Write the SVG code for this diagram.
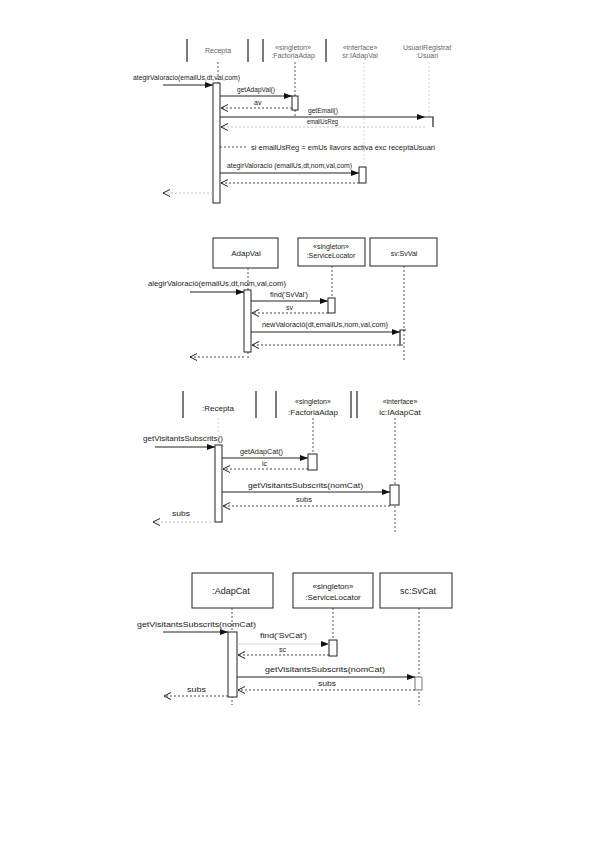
<svg xmlns="http://www.w3.org/2000/svg" width="599" height="848" viewBox="0 0 599 848">
<defs>
<style>
text{font-family:"Liberation Sans",Arial,sans-serif;fill:#222}
.s7{font-size:7px}.s8{font-size:8px}.s9{font-size:9px}
.hd{fill:#666}
.mid{text-anchor:middle}
.box{fill:#fff;stroke:#222;stroke-width:1}
.edge{stroke:#222;stroke-width:1.2;fill:none}
.life{stroke:#444;stroke-width:0.9;stroke-dasharray:2,2;fill:none}
.faint{stroke:#ccc;stroke-width:0.8;stroke-dasharray:2,2;fill:none}
.act{fill:#fff;stroke:#222;stroke-width:1}
.msg{stroke:#222;stroke-width:1;fill:none;marker-end:url(#fill)}
.ret{stroke:#333;stroke-width:0.9;stroke-dasharray:2,2;fill:none;marker-end:url(#open)}
.retf{stroke:#bbb;stroke-width:0.9;stroke-dasharray:2,2;fill:none;marker-end:url(#open)}
</style>
<marker id="fill" markerUnits="userSpaceOnUse" markerWidth="8" markerHeight="6" refX="8" refY="3" orient="auto"><path d="M0,0 L8,3 L0,6 z" fill="#111"/></marker>
<marker id="open" markerUnits="userSpaceOnUse" markerWidth="8" markerHeight="8" refX="7" refY="4" orient="auto"><path d="M0,0.5 L7,4 L0,7.5" fill="none" stroke="#222" stroke-width="1"/></marker>
</defs>
<rect width="599" height="848" fill="#fff"/>

<!-- Diagram 1 -->
<g id="d1-recepta">
<line class="edge" x1="187" y1="39" x2="187" y2="62"/><line class="edge" x1="248" y1="39" x2="248" y2="62"/>
<text class="s7 hd mid" x="218" y="53">Recepta</text>
<line class="life" x1="218" y1="62" x2="218" y2="83"/>
<rect class="act" x="213" y="83" width="7" height="120"/>
</g>
<g id="d1-factoria">
<line class="edge" x1="263" y1="39" x2="263" y2="62"/><line class="edge" x1="326" y1="39" x2="326" y2="62"/>
<text class="s7 hd mid" x="293" y="50">«singleton»</text>
<text class="s7 hd mid" x="293" y="58">:FactoriaAdap</text>
<line class="life" x1="295" y1="62" x2="295" y2="118"/>
<rect class="act" x="292" y="96" width="6" height="14"/>
</g>
<g id="d1-iadapval">
<text class="s7 hd mid" x="360" y="50">«interface»</text>
<text class="s7 hd mid" x="360" y="58">sr:IAdapVal</text>
<line class="faint" x1="364" y1="62" x2="364" y2="167"/>
<rect class="act" x="359" y="167" width="7" height="16"/>
</g>
<g id="d1-usuari">
<text class="s7 hd mid" x="427" y="50">UsuariRegistrat</text>
<text class="s7 hd mid" x="427" y="58">:Usuari</text>
<line class="faint" x1="429" y1="62" x2="429" y2="117"/>
<path d="M425,117 H433 V127" fill="none" stroke="#222" stroke-width="1.2"/>
</g>
<g id="d1-note">
<line class="life" x1="220" y1="147" x2="248" y2="147"/>
<text class="s8" x="251" y="150" textLength="184" lengthAdjust="spacingAndGlyphs">si emailUsReg = emUs llavors activa exc receptaUsuari</text>
</g>
<g id="d1-connectors">
<line class="msg" x1="163" y1="85" x2="213" y2="85"/>
<text class="s7" x="133" y="80" textLength="107" lengthAdjust="spacingAndGlyphs">ategirValoracio(emailUs,dt,val,com)</text>
<line class="msg" x1="220" y1="96" x2="292" y2="96"/>
<text class="s7" x="237" y="92" textLength="38" lengthAdjust="spacingAndGlyphs">getAdapVal()</text>
<line class="ret" x1="292" y1="108" x2="221" y2="108"/>
<text class="s7" x="254" y="105">av</text>
<line class="msg" x1="220" y1="117" x2="425" y2="117"/>
<text class="s7" x="308" y="113" textLength="30" lengthAdjust="spacingAndGlyphs">getEmail()</text>
<text class="s7" x="307" y="124" textLength="31" lengthAdjust="spacingAndGlyphs">emailUsReg</text>
<line class="retf" x1="425" y1="127" x2="221" y2="127"/>
<line class="msg" x1="220" y1="173" x2="359" y2="173"/>
<text class="s7" x="227" y="168" textLength="125" lengthAdjust="spacingAndGlyphs">ategirValoracio (emailUs,dt,nom,val,com)</text>
<line class="ret" x1="359" y1="183" x2="221" y2="183"/>
<line class="retf" x1="213" y1="193" x2="163" y2="193"/>
</g>

<!-- Diagram 2 -->
<g id="d2-adapval">
<rect class="box" x="213" y="238" width="65" height="30"/>
<text class="s8 mid" x="246" y="256">AdapVal</text>
<line class="life" x1="248" y1="268" x2="248" y2="358"/>
<rect class="act" x="244" y="290" width="7" height="62"/>
</g>
<g id="d2-servicelocator">
<rect class="box" x="298" y="238" width="67" height="28"/>
<text class="s7 mid" x="331" y="249">«singleton»</text>
<text class="s7 mid" x="331" y="258">:ServiceLocator</text>
<line class="life" x1="332" y1="266" x2="332" y2="298"/>
<rect class="act" x="328" y="298" width="7" height="15"/>
</g>
<g id="d2-svval">
<rect class="box" x="370" y="238" width="67" height="28"/>
<text class="s7 mid" x="404" y="256">sv:SvVal</text>
<line class="life" x1="404" y1="266" x2="404" y2="360"/>
<path d="M400,346 V330 H406" fill="none" stroke="#222" stroke-width="1.2"/>
</g>
<g id="d2-connectors">
<line class="msg" x1="190" y1="292" x2="244" y2="292"/>
<text class="s7" x="148" y="286" textLength="138" lengthAdjust="spacingAndGlyphs">alegirValoració(emailUs,dt,nom,val,com)</text>
<line class="msg" x1="251" y1="301" x2="328" y2="301"/>
<text class="s7" x="270" y="297" textLength="38" lengthAdjust="spacingAndGlyphs">find('SvVal')</text>
<line class="ret" x1="328" y1="313" x2="252" y2="313"/>
<text class="s7" x="286" y="310">sv</text>
<line class="msg" x1="251" y1="332" x2="400" y2="332"/>
<text class="s7" x="262" y="327" textLength="126" lengthAdjust="spacingAndGlyphs">newValoració(dt,emailUs,nom,val,com)</text>
<line class="ret" x1="403" y1="345" x2="252" y2="345"/>
<line class="ret" x1="244" y1="357" x2="190" y2="357"/>
</g>

<!-- Diagram 3 -->
<g id="d3-recepta">
<line class="edge" x1="183" y1="391" x2="183" y2="418"/><line class="edge" x1="256" y1="391" x2="256" y2="418"/>
<text class="s8 mid" x="218" y="411">:Recepta</text>
<line class="faint" x1="218" y1="418" x2="218" y2="445"/>
<rect class="act" x="215" y="445" width="7" height="77"/>
</g>
<g id="d3-factoria">
<line class="edge" x1="276" y1="391" x2="276" y2="418"/><line class="edge" x1="351" y1="391" x2="351" y2="418"/>
<text class="s7 mid" x="313" y="404">«singleton»</text>
<text class="s8 mid" x="313" y="415">:FactoriaAdap</text>
<line class="life" x1="313" y1="418" x2="313" y2="454"/>
<rect class="act" x="308" y="454" width="9" height="16"/>
</g>
<g id="d3-iadapcat">
<line class="edge" x1="357" y1="391" x2="357" y2="418"/>
<text class="s7 mid" x="400" y="404">«interface»</text>
<text class="s8 mid" x="400" y="415">ic:IAdapCat</text>
<line class="life" x1="395" y1="418" x2="395" y2="532"/>
<rect class="act" x="390" y="485" width="9" height="20"/>
</g>
<g id="d3-connectors">
<line class="msg" x1="155" y1="447" x2="215" y2="447"/>
<text class="s7" x="143" y="441" textLength="80" lengthAdjust="spacingAndGlyphs">getVisitantsSubscrits()</text>
<line class="msg" x1="222" y1="458" x2="308" y2="458"/>
<text class="s7" x="240" y="454" textLength="43" lengthAdjust="spacingAndGlyphs">getAdapCat()</text>
<line class="ret" x1="308" y1="469" x2="223" y2="469"/>
<text class="s7" x="262" y="466">ic</text>
<line class="msg" x1="222" y1="492" x2="390" y2="492"/>
<text class="s7" x="248" y="488" textLength="115" lengthAdjust="spacingAndGlyphs">getVisitantsSubscrits(nomCat)</text>
<line class="ret" x1="390" y1="506" x2="223" y2="506"/>
<text class="s7" x="296" y="502" textLength="16" lengthAdjust="spacingAndGlyphs">subs</text>
<line class="retf" x1="215" y1="522" x2="153" y2="522"/>
<text class="s7" x="172" y="516" textLength="18" lengthAdjust="spacingAndGlyphs">subs</text>
</g>

<!-- Diagram 4 -->
<g id="d4-adapcat">
<rect class="box" x="192" y="573" width="81" height="35"/>
<text class="s9 mid" x="231" y="594">:AdapCat</text>
<line class="life" x1="232" y1="608" x2="232" y2="705"/>
<rect class="act" x="228" y="632" width="9" height="65"/>
</g>
<g id="d4-servicelocator">
<rect class="box" x="293" y="573" width="80" height="35"/>
<text class="s8 mid" x="333" y="589">«singleton»</text>
<text class="s8 mid" x="333" y="600">:ServiceLocator</text>
<line class="life" x1="333" y1="608" x2="333" y2="640"/>
<rect class="act" x="329" y="640" width="8" height="16"/>
</g>
<g id="d4-svcat">
<rect class="box" x="380" y="573" width="72" height="35"/>
<text class="s9 mid" x="418" y="594">sc:SvCat</text>
<line class="life" x1="419" y1="608" x2="419" y2="705"/>
<rect x="415" y="677" width="7" height="13" fill="#fff" stroke="#555" stroke-width="0.8"/>
</g>
<g id="d4-connectors">
<line class="msg" x1="163" y1="632" x2="228" y2="632"/>
<text class="s8" x="137" y="627" textLength="119" lengthAdjust="spacingAndGlyphs">getVisitantsSubscrits(nomCat)</text>
<line x1="237" y1="644" x2="329" y2="644" stroke="#ccc" stroke-width="0.8" marker-end="url(#fill)"/>
<text class="s7" x="260" y="638" textLength="47" lengthAdjust="spacingAndGlyphs">find('SvCat')</text>
<line class="ret" x1="329" y1="655" x2="238" y2="655"/>
<text class="s7" x="279" y="652">sc</text>
<line class="msg" x1="237" y1="677" x2="415" y2="677"/>
<text class="s8" x="265" y="672" textLength="120" lengthAdjust="spacingAndGlyphs">getVisitantsSubscrits(nomCat)</text>
<line class="ret" x1="415" y1="690" x2="238" y2="690"/>
<text class="s8" x="318" y="686" textLength="18" lengthAdjust="spacingAndGlyphs">subs</text>
<line class="ret" x1="228" y1="696" x2="164" y2="696"/>
<text class="s8" x="187" y="692" textLength="19" lengthAdjust="spacingAndGlyphs">subs</text>
</g>
</svg>
